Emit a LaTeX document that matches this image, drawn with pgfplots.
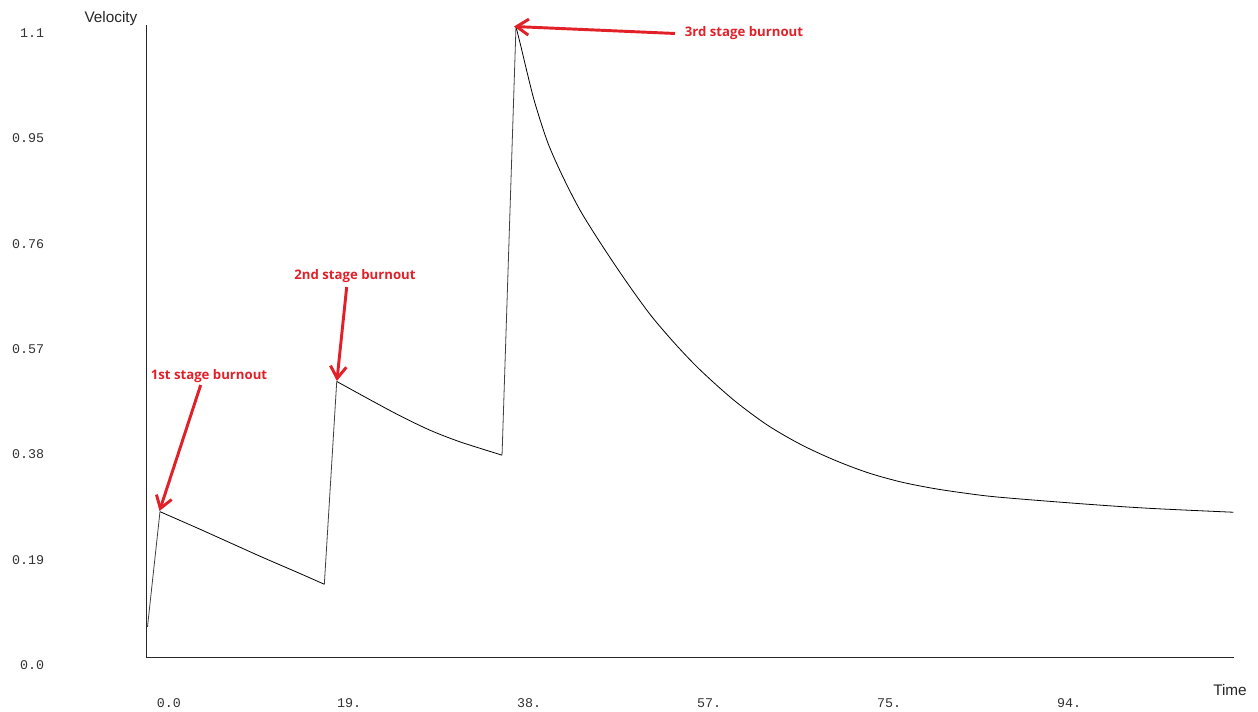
\documentclass[border=0pt]{standalone}
\usepackage{pgfplots}
\pgfplotsset{compat=1.18}
\usepackage{fontspec}
\setmainfont{Liberation Sans}
\setmonofont{Liberation Mono}
\newfontfamily\annotfont{Open Sans}
\usetikzlibrary{arrows.meta}
\definecolor{annotred}{RGB}{226,32,40}

\begin{document}
\begin{tikzpicture}
\useasboundingbox (-110.25pt,-40.5pt) rectangle (833.25pt,493.5pt);
\begin{axis}[
  at={(0pt,0pt)}, anchor=south west,
  scale only axis, width=815.25pt, height=474.75pt,
  xmin=0, xmax=113.83, ymin=0, ymax=1.1422,
  axis x line=bottom, axis y line=left,
  axis line style={-, line width=0.75pt, black!85},
  xtick={0,18.85,37.7,56.55,75.4,94.25},
  xticklabels={0.0,19.,38.,57.,75.,94.},
  ytick={0,0.19,0.38,0.57,0.76,0.95,1.14},
  yticklabels={0.0,0.19,0.38,0.57,0.76,0.95,1.1},
  major tick length=0pt,
  tick style={draw=none},
  xticklabel style={font=\ttfamily\fontsize{10}{12}\selectfont, anchor=center, inner sep=0pt, xshift=16.5pt, yshift=-34pt, text=black!80},
  yticklabel style={font=\ttfamily\fontsize{10}{12}\selectfont, anchor=east, inner sep=0pt, xshift=-77pt, yshift=-5.25pt, text=black!80},
  clip=false,
]
% rises (straight)
\addplot[black!75, line width=0.6pt] coordinates {(0.05,0.056) (1.36,0.264)};
\addplot[black!75, line width=0.6pt] coordinates {(18.57,0.133) (19.87,0.499)};
\addplot[black!75, line width=0.6pt] coordinates {(37.18,0.366) (38.64,1.139)};
% decays (smooth)
\addplot[black, line width=0.6pt, smooth, tension=0.5] coordinates {
  (1.36,0.264) (5.20,0.235) (8.69,0.208) (12.18,0.181)
  (15.68,0.155) (18.57,0.133)
};
\addplot[black, line width=0.6pt, smooth, tension=0.5] coordinates {
  (19.87,0.499) (23.35,0.466) (26.50,0.437)
  (29.64,0.411) (32.78,0.390) (37.18,0.366)
};
\addplot[black, line width=0.6pt, smooth, tension=0.5] coordinates {
  (38.64,1.139) (39.17,1.1025) (39.80,1.057) (40.63,1.001)
  (41.99,0.929) (43.56,0.868) (45.35,0.808) (47.44,0.750)
  (50.00,0.684) (52.68,0.620) (55.30,0.567)
  (57.91,0.520) (61.40,0.466) (64.90,0.421) (68.38,0.386) (71.87,0.358)
  (75.37,0.335) (78.86,0.318) (82.34,0.306) (85.84,0.297) (89.33,0.290)
  (98.05,0.278) (105.04,0.270) (113.76,0.263)
};
\end{axis}
\begin{scope}[shift={(-110.25pt,493.5pt)}, x=0.75pt, y=-0.75pt]
  \draw[annotred, line width=2.2pt, -{Straight Barb[length=9pt,width=12pt]}] (200.7,385) -- (159.5,511);
  \draw[annotred, line width=2.2pt, -{Straight Barb[length=9pt,width=12pt]}] (346.7,287) -- (336.9,381);
  \draw[annotred, line width=2.2pt, -{Straight Barb[length=9pt,width=12pt]}] (675,33.5) -- (514,26.5);
  \node[annotred, font=\annotfont\bfseries\fontsize{9.9}{12}\selectfont, inner sep=0pt] at (209,376) {1st stage burnout};
  \node[annotred, font=\annotfont\bfseries\fontsize{9.9}{12}\selectfont, inner sep=0pt] at (355,276) {2nd stage burnout};
  \node[annotred, font=\annotfont\bfseries\fontsize{9.9}{12}\selectfont, inner sep=0pt] at (744,33) {3rd stage burnout};
  \node[font=\fontsize{11.5}{13}\selectfont, inner sep=0pt, text=black!85] at (111,19) {Velocity};
  \node[font=\fontsize{11.5}{13}\selectfont, inner sep=0pt, text=black!85] at (1230,690) {Time};
\end{scope}
\end{tikzpicture}
\end{document}
